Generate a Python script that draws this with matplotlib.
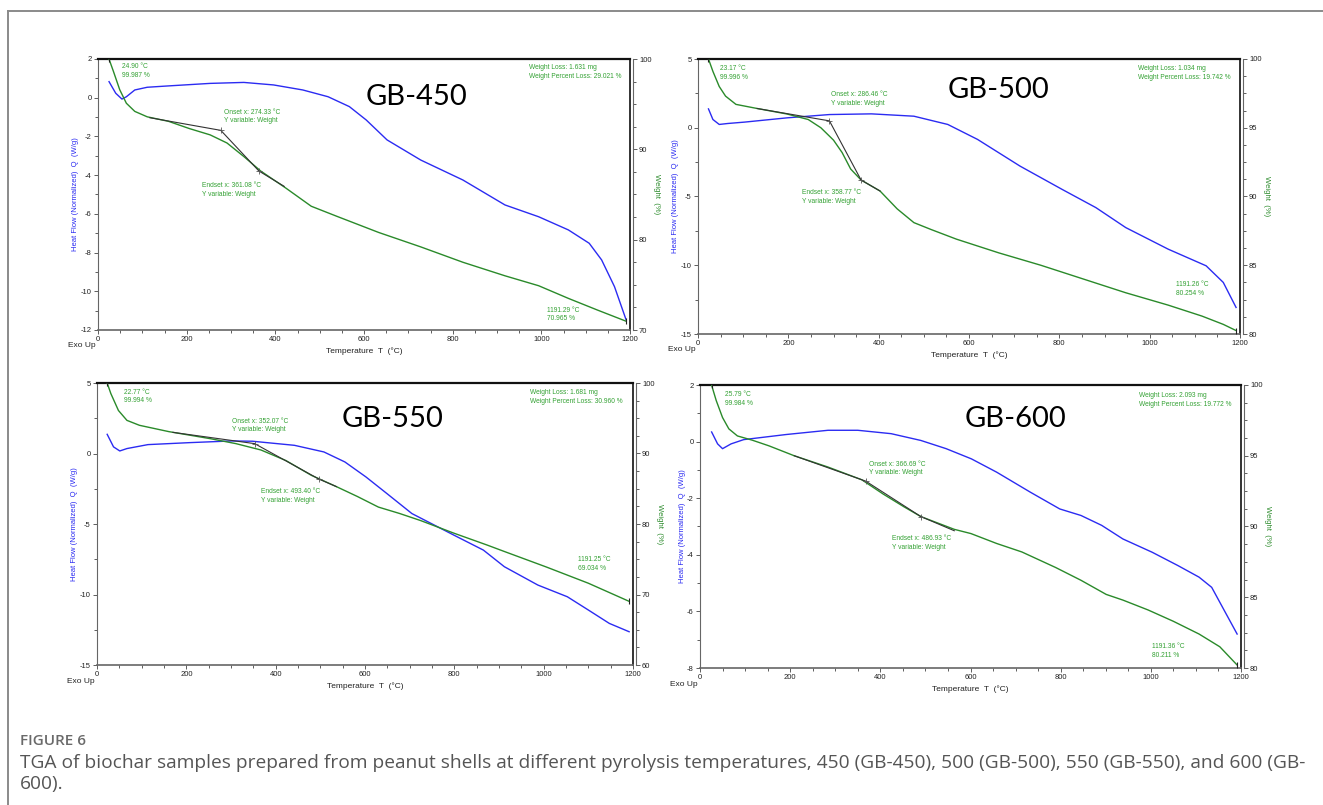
import numpy as np
import matplotlib.pyplot as plt
from matplotlib.lines import Line2D
from matplotlib.ticker import MultipleLocator, AutoMinorLocator

plt.rcParams['font.family'] = ['Liberation Sans', 'DejaVu Sans']
plt.rcParams['axes.unicode_minus'] = False

# ---------------- GB-450 ----------------
T450_W = [24.9, 35, 49, 64, 83, 111, 159, 206, 253, 291, 329, 367, 424, 481, 538, 633,
          728, 823, 918, 994, 1061, 1127, 1191.3]
W450 = [99.99, 98.6, 96.6, 95.1, 94.2, 93.6, 93.1, 92.3, 91.6, 90.7, 89.2, 87.6, 85.7,
        83.7, 82.6, 80.8, 79.2, 77.5, 76.0, 74.9, 73.5, 72.2, 70.97]
T450_Q = [24.9, 40, 54, 64, 83, 111, 159, 253, 329, 396, 462, 519, 567, 605, 652, 728,
          823, 918, 994, 1061, 1108, 1136, 1165, 1191.3]
Q450 = [0.83, 0.23, -0.07, 0.05, 0.40, 0.54, 0.61, 0.74, 0.79, 0.66, 0.40, 0.05, -0.46,
        -1.15, -2.18, -3.22, -4.25, -5.54, -6.15, -6.83, -7.52, -8.38, -9.76, -11.48]
TAN450_T = [117, 277, 363, 420]
TAN450_W = [93.5, 92.1, 87.6, 85.9]
START450 = (24.90, 99.987)
END450 = (1191.29, 70.965)
ONSET450, ENDSET450 = 274.33, 361.08
LOSS450 = (1.631, 29.021)

# ---------------- GB-500 ----------------
T500_W = [23.2, 33, 47, 61, 84, 131, 197, 244, 272, 300, 319, 338, 361, 403, 441, 478,
          516, 572, 666, 759, 853, 947, 1041, 1116, 1163, 1191.3]
W500 = [100.0, 99.1, 98.0, 97.3, 96.7, 96.4, 96.0, 95.6, 95.0, 94.1, 93.2, 92.0, 91.2,
        90.4, 89.1, 88.1, 87.6, 86.9, 85.9, 85.0, 84.0, 83.0, 82.1, 81.3, 80.7, 80.25]
T500_Q = [23.2, 33, 47, 66, 103, 197, 291, 384, 478, 553, 619, 713, 806, 881, 947, 1041,
          1125, 1163, 1191.3]
Q500 = [1.37, 0.60, 0.24, 0.31, 0.41, 0.72, 0.96, 1.01, 0.84, 0.24, -0.85, -2.79, -4.48,
        -5.81, -7.26, -8.83, -10.04, -11.25, -13.07]
TAN500_T = [131, 291, 361, 403]
TAN500_W = [96.4, 95.5, 91.2, 90.4]
START500 = (23.17, 99.996)
END500 = (1191.26, 80.254)
ONSET500, ENDSET500 = 286.46, 358.77
LOSS500 = (1.034, 19.742)

# ---------------- GB-550 ----------------
T550_W = [22.8, 31, 48, 67, 95, 161, 254, 311, 367, 423, 480, 536, 583, 630, 677, 724,
          799, 874, 912, 1006, 1100, 1191.3]
W550 = [99.99, 98.5, 96.1, 94.7, 94.0, 93.1, 92.1, 91.4, 90.5, 89.0, 86.9, 85.3, 83.9,
        82.4, 81.5, 80.5, 78.7, 77.0, 76.1, 73.9, 71.6, 69.03]
T550_Q = [22.8, 37, 51, 67, 114, 207, 301, 348, 442, 508, 555, 602, 649, 705, 799, 865,
          912, 987, 1053, 1100, 1147, 1191.3]
Q550 = [1.36, 0.47, 0.18, 0.35, 0.63, 0.77, 0.89, 0.87, 0.58, 0.11, -0.60, -1.66, -2.84,
        -4.26, -5.79, -6.85, -8.03, -9.33, -10.16, -11.10, -12.05, -12.64]
TAN550_T = [170, 353, 496, 536]
TAN550_W = [93.0, 91.4, 86.4, 85.3]
START550 = (22.77, 99.994)
END550 = (1191.25, 69.034)
ONSET550, ENDSET550 = 352.07, 493.40
LOSS550 = (1.681, 30.960)

# ---------------- GB-600 ----------------
T600_W = [25.8, 36, 50, 64, 83, 116, 153, 209, 284, 359, 406, 452, 490, 564, 601, 658,
          714, 789, 845, 901, 938, 994, 1050, 1107, 1153, 1191.4]
W600 = [99.98, 98.9, 97.7, 96.9, 96.4, 96.1, 95.7, 95.0, 94.2, 93.3, 92.3, 91.4, 90.7,
        89.8, 89.5, 88.8, 88.2, 87.1, 86.2, 85.2, 84.8, 84.1, 83.3, 82.4, 81.5, 80.21]
T600_Q = [25.8, 39, 50, 69, 97, 191, 284, 350, 424, 490, 546, 602, 658, 733, 798, 845,
          891, 938, 1003, 1060, 1107, 1135, 1163, 1191.4]
Q600 = [0.34, -0.08, -0.25, -0.08, 0.07, 0.25, 0.40, 0.40, 0.28, 0.04, -0.25, -0.61,
        -1.08, -1.79, -2.38, -2.61, -2.96, -3.44, -3.91, -4.38, -4.79, -5.15, -5.97, -6.80]
TAN600_T = [209, 368, 490, 564]
TAN600_W = [95.0, 93.2, 90.7, 89.7]
START600 = (25.79, 99.984)
END600 = (1191.36, 80.211)
ONSET600, ENDSET600 = 366.69, 486.93
LOSS600 = (2.093, 19.772)

BLUE = '#2b2bf2'
GREEN = '#2a8a2a'
NOTE = '#33a133'
SMALL = 5.5
NOTE_SIZE = 4.8

fig = plt.figure(figsize=(13.23, 8.05), dpi=100)


def px(l, t, r, b):
    return [l / 1323, 1 - b / 805, (r - l) / 1323, (b - t) / 805]


def panel(rect, tw, w, tq, q, tant, tanw, start, end, onset, endset, loss, name,
          qlim, qstep, wlim, wstep, pos):
    ax = fig.add_axes(rect)
    ax2 = ax.twinx()
    ax.plot(tq, q, color=BLUE, lw=1.0, solid_joinstyle='round')
    ax2.plot(tw, w, color=GREEN, lw=1.0, solid_joinstyle='round')
    ax2.plot(tant, tanw, color='#333333', lw=0.8)
    ax2.plot([start[0], end[0]], [start[1], end[1]], ls='none', marker='|', ms=4,
             mew=0.8, color='#222222')
    ax2.plot([tant[1], tant[2]], [tanw[1], tanw[2]], ls='none', marker='+', ms=4,
             mew=0.6, color='#555555')

    ax.set_xlim(0, 1200)
    ax.set_ylim(*qlim)
    ax2.set_ylim(*wlim)
    ax.xaxis.set_major_locator(MultipleLocator(200))
    ax.xaxis.set_minor_locator(MultipleLocator(50))
    ax.yaxis.set_major_locator(MultipleLocator(qstep))
    ax.yaxis.set_minor_locator(AutoMinorLocator(2))
    ax2.yaxis.set_major_locator(MultipleLocator(wstep))
    ax2.yaxis.set_minor_locator(AutoMinorLocator(4))

    for a in (ax, ax2):
        a.tick_params(which='both', labelsize=SMALL, colors='#444444', width=0.6,
                      pad=1.5, labelcolor='#222222')
        a.tick_params(which='major', length=3)
        a.tick_params(which='minor', length=2)

    ax.spines['top'].set_color('#111111')
    ax.spines['top'].set_linewidth(1.6)
    ax.spines['left'].set_color('#666666')
    ax.spines['bottom'].set_color('#666666')
    ax.spines['bottom'].set_linewidth(1.2)
    ax.spines['right'].set_color('#111111')
    ax.spines['right'].set_linewidth(1.2)
    ax2.spines['right'].set_position(('outward', 2))
    ax2.spines['right'].set_color('#666666')
    for s in ('top', 'left', 'bottom'):
        ax2.spines[s].set_visible(False)

    ax.set_ylabel('Heat Flow (Normalized)  Q  (W/g)', color=BLUE, fontsize=SMALL,
                  labelpad=1)
    ax2.set_ylabel('Weight  (%)', color=GREEN, fontsize=SMALL, rotation=270,
                   labelpad=6)
    ax.set_xlabel('Temperature  T  (°C)', fontsize=6, color='#222222', labelpad=3)
    ax.text(-0.03, -0.058, 'Exo Up', transform=ax.transAxes, fontsize=6,
            color='#222222', ha='center', va='center')

    kw = dict(transform=ax.transAxes, fontsize=NOTE_SIZE, color=NOTE, va='top',
              linespacing=1.35)
    ax.text(pos[0][0], pos[0][1], f'{start[0]:.2f} °C\n{start[1]:.3f} %', **kw)
    ax.text(pos[1][0], pos[1][1],
            f'Weight Loss: {loss[0]:.3f} mg\nWeight Percent Loss: {loss[1]:.3f} %', **kw)
    ax.text(pos[2][0], pos[2][1], f'Onset x: {onset:.2f} °C\nY variable: Weight', **kw)
    ax.text(pos[3][0], pos[3][1], f'Endset x: {endset:.2f} °C\nY variable: Weight', **kw)
    ax.text(pos[4][0], pos[4][1], f'{end[0]:.2f} °C\n{end[1]:.3f} %', **kw)
    ax.text(pos[5][0], pos[5][1], name, transform=ax.transAxes, fontsize=21,
            family='Lato', color='black', ha='center', va='center')


panel(px(98, 59, 630, 330), T450_W, W450, T450_Q, Q450, TAN450_T, TAN450_W,
      START450, END450, ONSET450, ENDSET450, LOSS450, 'GB-450',
      (-12, 2), 2, (70, 100), 10,
      [(0.045, 0.986), (0.811, 0.982), (0.237, 0.817), (0.195, 0.547), (0.844, 0.086),
       (0.599, 0.861)])
panel(px(698, 59, 1240, 334), T500_W, W500, T500_Q, Q500, TAN500_T, TAN500_W,
      START500, END500, ONSET500, ENDSET500, LOSS500, 'GB-500',
      (-15, 5), 5, (80, 100), 5,
      [(0.041, 0.979), (0.8125, 0.979), (0.246, 0.883), (0.192, 0.528), (0.881, 0.191),
       (0.555, 0.889)])
panel(px(97, 383, 633, 665), T550_W, W550, T550_Q, Q550, TAN550_T, TAN550_W,
      START550, END550, ONSET550, ENDSET550, LOSS550, 'GB-550',
      (-15, 5), 5, (60, 100), 10,
      [(0.050, 0.980), (0.808, 0.978), (0.251, 0.877), (0.306, 0.627), (0.897, 0.387),
       (0.552, 0.874)])
panel(px(700, 385, 1241, 668), T600_W, W600, T600_Q, Q600, TAN600_T, TAN600_W,
      START600, END600, ONSET600, ENDSET600, LOSS600, 'GB-600',
      (-8, 2), 2, (80, 100), 5,
      [(0.046, 0.978), (0.8115, 0.975), (0.312, 0.733), (0.354, 0.469), (0.836, 0.088),
       (0.583, 0.881)])

# outer frame (top and left edges)
fig.add_artist(Line2D([8 / 1323, 1], [1 - 11 / 805, 1 - 11 / 805], color='#8a8a8a', lw=1.4))
fig.add_artist(Line2D([8 / 1323, 8 / 1323], [0, 1 - 11 / 805], color='#8a8a8a', lw=1.4))

fig.text(20 / 1323, 1 - 741 / 805, 'FIGURE 6', fontsize=11, family='Open Sans',
         weight='semibold', color='#6a6a6a', va='center')
fig.text(20 / 1323, 1 - 763 / 805,
         'TGA of biochar samples prepared from peanut shells at different pyrolysis '
         'temperatures, 450 (GB-450), 500 (GB-500), 550 (GB-550), and 600 (GB-',
         fontsize=13.8, family='Open Sans', color='#555555', va='center')
fig.text(20 / 1323, 1 - 784 / 805, '600).', fontsize=13.8, family='Open Sans',
         color='#555555', va='center')

fig.savefig('out.png', dpi=100)
